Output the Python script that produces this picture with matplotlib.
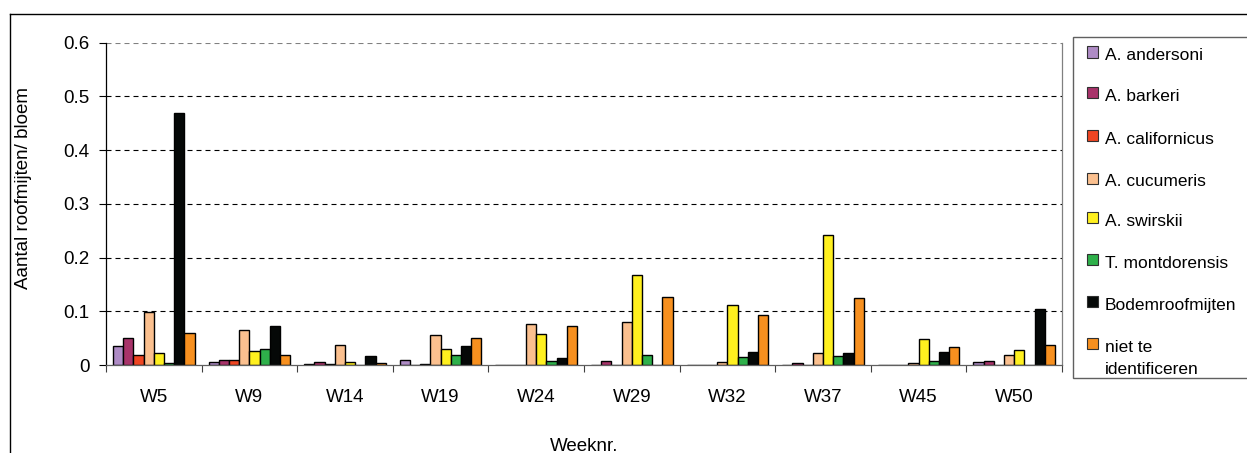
import numpy as np
import matplotlib
matplotlib.use("Agg")
import matplotlib.pyplot as plt
from matplotlib.patches import Rectangle
from matplotlib.lines import Line2D

plt.rcParams['font.family'] = ['Liberation Sans', 'DejaVu Sans']

weeks = ['W5', 'W9', 'W14', 'W19', 'W24', 'W29', 'W32', 'W37', 'W45', 'W50']
series_names = ['A. andersoni', 'A. barkeri', 'A. californicus', 'A. cucumeris',
                'A. swirskii', 'T. montdorensis', 'Bodemroofmijten',
                'niet te\nidentificeren']
andersoni    = [0.035, 0.005, 0.002, 0.009, 0.0, 0.0, 0.0, 0.0, 0.0, 0.005]
barkeri      = [0.050, 0.010, 0.006, 0.0, 0.0, 0.007, 0.0, 0.003, 0.0, 0.007]
californicus = [0.019, 0.010, 0.002, 0.002, 0.0, 0.0, 0.0, 0.0, 0.0, 0.0]
cucumeris    = [0.098, 0.066, 0.037, 0.056, 0.077, 0.080, 0.005, 0.022, 0.003, 0.019]
swirskii     = [0.023, 0.026, 0.006, 0.030, 0.058, 0.168, 0.112, 0.242, 0.049, 0.028]
montdorensis = [0.004, 0.029, 0.0, 0.018, 0.007, 0.019, 0.014, 0.017, 0.007, 0.0]
bodem        = [0.469, 0.073, 0.016, 0.035, 0.013, 0.0, 0.024, 0.022, 0.024, 0.105]
niet         = [0.059, 0.019, 0.004, 0.050, 0.073, 0.127, 0.093, 0.124, 0.033, 0.038]
yticks = [0, 0.1, 0.2, 0.3, 0.4, 0.5, 0.6]
ytick_labels = ['0', '0.1', '0.2', '0.3', '0.4', '0.5', '0.6']

series = [andersoni, barkeri, californicus, cucumeris, swirskii, montdorensis, bodem, niet]
colors = ['#AE8BC5', '#A8336A', '#EF4623', '#FBC08F', '#FFF01F', '#2EB04A', '#050807', '#F7901F']

W, H = 1247, 453
fig = plt.figure(figsize=(W / 100, H / 100), dpi=100)

def fx(x):
    return x / W

def fy(y):
    return 1 - y / H

ax_l, ax_r, ax_t, ax_b = 106, 1062, 42.6, 365
ax = fig.add_axes([fx(ax_l), fy(ax_b), fx(ax_r - ax_l), (ax_b - ax_t) / H])

x = np.arange(len(weeks))
bw = 0.1067
n = len(series)
for i, (vals, c) in enumerate(zip(series, colors)):
    ax.bar(x + (i - (n - 1) / 2) * bw, vals, width=bw, color=c,
           edgecolor='black', linewidth=1.0, zorder=2)

ax.set_xlim(-0.5, len(weeks) - 0.5)
ax.set_ylim(0, 0.6)

# gridlines
for yv in yticks[1:]:
    ax.axhline(yv, color='#808080' if yv == 0.6 else 'black', lw=0.8,
               linestyle=(0, (4.5, 3.6)), zorder=1)

ax.set_yticks(yticks)
ax.set_yticklabels(ytick_labels)
ax.set_xticks(np.arange(len(weeks) + 1) - 0.5)
ax.set_xticklabels([])
ax.set_xticks(x, minor=True)
ax.set_xticklabels(weeks, minor=True)
ax.tick_params(axis='x', which='major', direction='out', length=5, width=0.8, color='#404040')
ax.tick_params(axis='x', which='minor', length=0, pad=17, labelsize=13.5)
ax.tick_params(axis='y', direction='out', length=5, width=0.8, color='black', pad=7, labelsize=13.5)

ax.spines['top'].set_visible(False)
ax.spines['right'].set_color('#808080')
ax.spines['bottom'].set_color('#606060')
ax.spines['left'].set_color('black')
for s in ax.spines.values():
    s.set_linewidth(0.9)

ax.set_xlabel('Weeknr.', fontsize=13.5)
ax.xaxis.set_label_coords(0.5, -(438 - ax_b) / (ax_b - ax_t))
ax.set_ylabel('Aantal roofmijten/ bloem', fontsize=13.5)
ax.yaxis.set_label_coords(-(ax_l - 32) / (ax_r - ax_l), (ax_b - 188) / (ax_b - ax_t))

# outer chart border (extends beyond the image at right and bottom)
fig.add_artist(Line2D([fx(10), fx(10)], [fy(14), fy(H + 5)], color='black', lw=1.0))
fig.add_artist(Line2D([fx(10), fx(W + 5)], [fy(14), fy(14)], color='black', lw=1.0))

# legend box
fig.add_artist(Rectangle((fx(1073), fy(378)), fx(W + 20 - 1073), (378 - 37) / H,
                         transform=fig.transFigure, facecolor='white',
                         edgecolor='#606060', lw=1.0, clip_on=False))
centers = [52, 92.5, 135.5, 178, 218, 259, 301.5, 343]
for name, c, yc in zip(series_names, colors, centers):
    fig.add_artist(Rectangle((fx(1087), fy(yc + 5.5)), fx(11), 11 / H,
                             transform=fig.transFigure, facecolor=c,
                             edgecolor='#303030', lw=0.8))
    lines = name.split('\n')
    for k, line in enumerate(lines):
        fig.text(fx(1105), fy(yc + 8.5 + 22 * k), line, fontsize=12.5,
                 va='baseline', ha='left', color='black')

fig.savefig('out.png', dpi=100)
